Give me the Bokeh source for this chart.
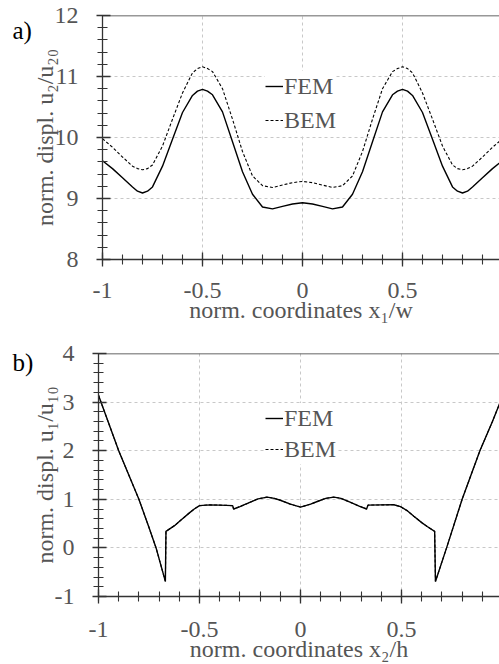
import math
from bokeh.plotting import figure
from bokeh.layouts import column, row
from bokeh.models import (Range1d, SingleIntervalTicker, Span, Label, Legend,
                          LegendItem, CustomJSTickFormatter)
from bokeh.embed import file_html
from bokeh.resources import INLINE

# ---------------- data ----------------
# a) normalised displacement u2/u20 along x1/w
top_x = [-1.0, -0.95, -0.9, -0.85, -0.825, -0.8, -0.775, -0.75, -0.7, -0.65, -0.6,
         -0.55, -0.525, -0.5, -0.475, -0.45, -0.4, -0.35, -0.3, -0.25, -0.2, -0.15,
         -0.1, -0.05, 0.0, 0.05, 0.1, 0.15, 0.2, 0.25, 0.3, 0.35, 0.4, 0.45, 0.475,
         0.5, 0.525, 0.55, 0.6, 0.65, 0.7, 0.75, 0.775, 0.8, 0.825, 0.85, 0.9, 0.95, 1.0]
top_fem = [9.62, 9.49, 9.34, 9.19, 9.12, 9.09, 9.12, 9.19, 9.53, 9.97, 10.41,
           10.69, 10.76, 10.79, 10.76, 10.70, 10.42, 9.93, 9.44, 9.07, 8.86, 8.83,
           8.87, 8.91, 8.93, 8.91, 8.87, 8.83, 8.86, 9.07, 9.44, 9.93, 10.42, 10.70, 10.76,
           10.79, 10.76, 10.69, 10.41, 9.97, 9.53, 9.19, 9.12, 9.09, 9.12, 9.19, 9.34, 9.49, 9.62]
top_bem = [9.98, 9.84, 9.68, 9.53, 9.49, 9.47, 9.49, 9.55, 9.86, 10.30, 10.73,
           11.06, 11.13, 11.16, 11.13, 11.08, 10.80, 10.30, 9.77, 9.37, 9.21, 9.18,
           9.22, 9.26, 9.28, 9.26, 9.22, 9.18, 9.21, 9.37, 9.77, 10.30, 10.80, 11.08, 11.13,
           11.16, 11.13, 11.06, 10.73, 10.30, 9.86, 9.55, 9.49, 9.47, 9.49, 9.53, 9.68, 9.84, 9.98]

# b) normalised displacement u1/u10 along x2/h
bot_x = [-1.0, -0.95, -0.9, -0.85, -0.8, -0.75, -0.715, -0.669, -0.666, -0.62, -0.59,
         -0.55, -0.526, -0.5, -0.45, -0.4, -0.336, -0.331, -0.3, -0.26, -0.21, -0.165,
         -0.13, -0.1, -0.05, 0.0, 0.05, 0.083, 0.125, 0.166, 0.2, 0.248, 0.29, 0.327,
         0.334, 0.4, 0.462, 0.495, 0.53, 0.561, 0.6, 0.627, 0.664, 0.668, 0.723, 0.8,
         0.888, 0.95, 1.0]
bot_fem = [3.14, 2.57, 2.0, 1.5, 1.0, 0.42, 0.0, -0.69, 0.34, 0.47, 0.58,
           0.72, 0.80, 0.87, 0.885, 0.88, 0.87, 0.80, 0.85, 0.92, 1.01, 1.045,
           1.02, 0.98, 0.90, 0.84, 0.90, 0.955, 1.02, 1.045, 1.02, 0.935, 0.86, 0.80,
           0.88, 0.885, 0.888, 0.85, 0.76, 0.65, 0.52, 0.44, 0.34, -0.69, 0.0, 1.0,
           2.0, 2.6, 3.12]
bot_bem = [3.14, 2.57, 2.0, 1.5, 1.0, 0.42, 0.0, -0.69, 0.34, 0.47, 0.58,
           0.72, 0.80, 0.87, 0.885, 0.88, 0.87, 0.80, 0.85, 0.92, 1.01, 1.045,
           1.02, 0.98, 0.90, 0.84, 0.90, 0.955, 1.02, 1.045, 1.02, 0.935, 0.86, 0.80,
           0.88, 0.885, 0.888, 0.85, 0.76, 0.65, 0.52, 0.44, 0.34, -0.69, 0.0, 1.0,
           2.0, 2.6, 3.12]

series_labels = ["FEM", "BEM"]
panel_tags = ["a)", "b)"]
top_xlabel = "norm. coordinates x\u2081/w"
top_ylabel = "norm. displ. u\u2082/u\u2082\u2080"
bot_xlabel = "norm. coordinates x\u2082/h"
bot_ylabel = "norm. displ. u\u2081/u\u2081\u2080"

FONT = "Liberation Serif"
TXT = "#555555"
AX = "#333333"
FS = "24px"

fmt_code = "return String(Math.round(tick*10)/10);"


def make_panel(xs, fem, bem, yr, xend, height, border_left, border_top, border_bottom,
               tag, tag_xy, xlabel, ylabel, leg_loc, leg_spacing, xstand):
    p = figure(width=499, height=height, output_backend="svg", toolbar_location=None,
               x_range=Range1d(-1, xend), y_range=Range1d(*yr),
               min_border_left=border_left, min_border_right=0,
               min_border_top=border_top, min_border_bottom=border_bottom)
    p.outline_line_color = None
    p.background_fill_color = "white"

    # axes
    p.xaxis.ticker = SingleIntervalTicker(interval=0.5, num_minor_ticks=5)
    p.yaxis.ticker = SingleIntervalTicker(interval=1, num_minor_ticks=5)
    for ax in (p.xaxis[0], p.yaxis[0]):
        ax.formatter = CustomJSTickFormatter(code=fmt_code)
        ax.axis_line_color = AX
        ax.axis_line_width = 1.3
        ax.major_tick_line_color = AX
        ax.minor_tick_line_color = AX
        ax.major_tick_line_width = 1.3
        ax.minor_tick_line_width = 1.1
        ax.major_label_text_font = FONT
        ax.major_label_text_font_size = FS
        ax.major_label_text_color = TXT
        ax.axis_label_text_font = FONT
        ax.axis_label_text_font_size = FS
        ax.axis_label_text_font_style = "normal"
        ax.axis_label_text_color = TXT
    p.xaxis.axis_label = xlabel
    p.yaxis.axis_label = ylabel
    p.xaxis.major_tick_in = 7
    p.xaxis.major_tick_out = 7
    p.xaxis.minor_tick_in = 5
    p.xaxis.minor_tick_out = 5
    p.xaxis.major_label_standoff = xstand
    p.xaxis.axis_label_standoff = -4
    p.yaxis.major_tick_in = 8
    p.yaxis.major_tick_out = 6
    p.yaxis.minor_tick_in = 5
    p.yaxis.minor_tick_out = 5
    p.yaxis.major_label_standoff = 18
    p.yaxis.axis_label_standoff = -6

    # grid
    p.xgrid.ticker = SingleIntervalTicker(interval=0.5)
    p.ygrid.ticker = SingleIntervalTicker(interval=1)
    for g in (p.xgrid[0], p.ygrid[0]):
        g.grid_line_color = "#c8c8c8"
        g.grid_line_dash = "3 3"
        g.grid_line_width = 1

    # top frame line
    p.add_layout(Span(location=yr[1], dimension="width", line_color=AX, line_width=1.3))

    r_bem = p.line(xs, bem, line_color="black", line_width=1.1, line_dash="3 2")
    r_fem = p.line(xs, fem, line_color="black", line_width=1.4)

    legend = Legend(items=[LegendItem(label=series_labels[0], renderers=[r_fem]),
                           LegendItem(label=series_labels[1], renderers=[r_bem])],
                    location=leg_loc, label_text_font=FONT, label_text_font_size=FS,
                    label_text_color=TXT, glyph_width=18, glyph_height=30,
                    label_height=30, label_standoff=1, spacing=leg_spacing,
                    padding=7, margin=0, background_fill_color="white",
                    background_fill_alpha=1.0, border_line_color=None)
    p.add_layout(legend)

    p.add_layout(Label(x=tag_xy[0], y=tag_xy[1], text=tag, text_font=FONT,
                       text_font_size="25px", text_color="black",
                       text_align="left", text_baseline="middle"), "left")
    return p


p1 = make_panel(top_x, top_fem, top_bem, (8, 12), 0.985, 336, 102, 15, 77,
                panel_tags[0], (-1.45, 11.75), top_xlabel, top_ylabel, (163, 124), 4, 16)
p2 = make_panel(bot_x, bot_fem, bot_bem, (-1, 4), 0.985, 328, 98, 17, 67,
                panel_tags[1], (-1.426, 3.816), bot_xlabel, bot_ylabel, (167, 132), 1, 18)

layout = column(row(p1), row(p2))
open("out.html", "w").write(file_html(layout, INLINE))
